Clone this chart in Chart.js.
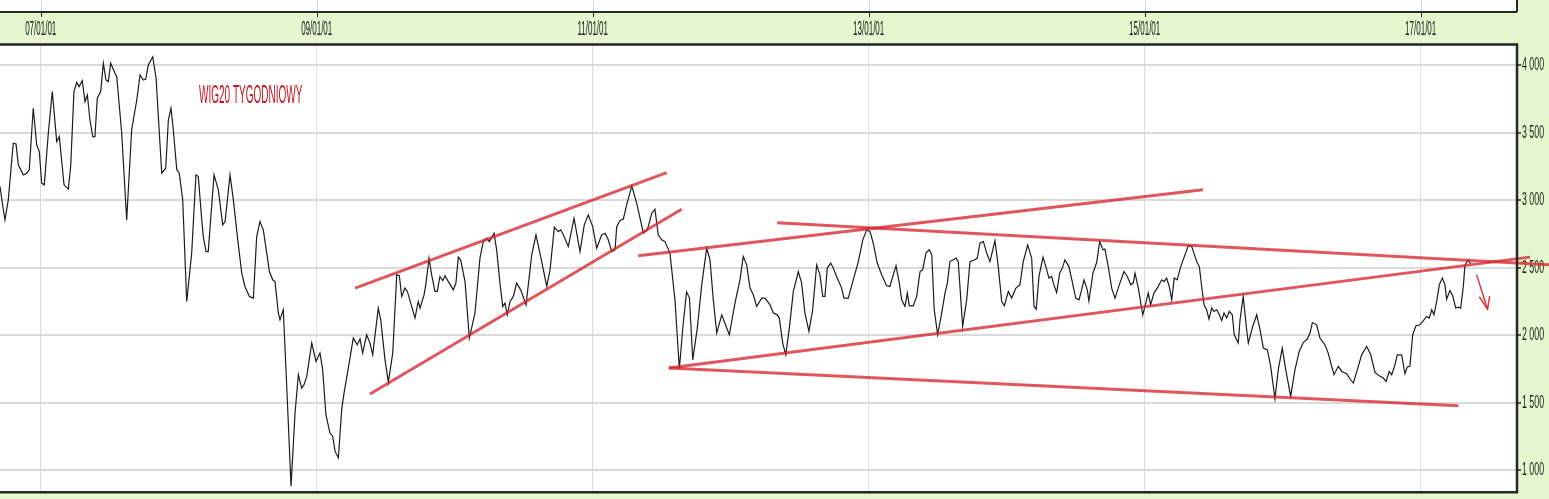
<!DOCTYPE html>
<html>
<head>
<meta charset="utf-8">
<script src="https://cdn.jsdelivr.net/npm/chart.js@4.4.1/dist/chart.umd.min.js"></script>
<style>
html,body{margin:0;padding:0;background:#e4f7cf;}
#wrap{width:1549px;height:499px;position:relative;}
canvas{display:block;}
</style>
</head>
<body>
<div id="wrap"><canvas id="c" width="1549" height="499"></canvas></div>
<script>
// ---- DATA ----
const chartTitle = 'WIG20 TYGODNIOWY';
const xTickYears = [2007, 2009, 2011, 2013, 2015, 2017];
const yTickValues = [1000, 1500, 2000, 2500, 3000, 3500, 4000];

// weekly closes (decimal year, index points)
const weekYears = [
2006.705,2006.729,2006.741,2006.765,2006.801,2006.821,2006.838,2006.874,2006.899,2006.917,2006.946,2006.971,2006.990,
2007.007,2007.026,2007.055,2007.084,2007.116,2007.135,2007.169,2007.200,2007.217,2007.241,2007.261,2007.278,2007.301,
2007.321,2007.338,2007.357,2007.377,2007.393,2007.410,2007.435,2007.454,2007.473,2007.490,2007.507,2007.538,2007.551,
2007.587,2007.623,2007.659,2007.696,2007.720,2007.743,2007.761,2007.780,2007.812,2007.836,2007.877,2007.906,2007.925,
2007.944,2007.961,2007.986,2008.004,2008.029,2008.058,2008.094,2008.125,2008.142,2008.167,2008.178,2008.198,2008.214,
2008.256,2008.287,2008.319,2008.336,2008.372,2008.396,2008.425,2008.457,2008.480,2008.512,2008.541,2008.565,2008.589,
2008.613,2008.638,2008.657,2008.681,2008.698,2008.722,2008.734,2008.758,2008.787,2008.814,2008.843,2008.867,2008.891,
2008.908,2008.928,2008.964,2008.995,2009.024,2009.043,2009.067,2009.096,2009.116,2009.133,2009.157,2009.181,2009.198,
2009.229,2009.265,2009.294,2009.314,2009.333,2009.362,2009.386,2009.406,2009.446,2009.464,2009.495,2009.519,2009.551,
2009.580,2009.599,2009.616,2009.640,2009.657,2009.688,2009.712,2009.736,2009.749,2009.778,2009.792,2009.814,2009.833,
2009.857,2009.874,2009.893,2009.913,2009.930,2009.954,2009.990,2010.009,2010.026,2010.043,2010.075,2010.106,2010.147,
2010.183,2010.207,2010.232,2010.251,2010.285,2010.304,2010.328,2010.348,2010.364,2010.381,2010.401,2010.425,2010.449,
2010.478,2010.517,2010.558,2010.589,2010.623,2010.667,2010.691,2010.722,2010.751,2010.768,2010.787,2010.823,2010.865,
2010.908,2010.939,2010.968,2011.000,2011.029,2011.065,2011.089,2011.113,2011.138,2011.162,2011.174,2011.198,2011.222,
2011.246,2011.283,2011.319,2011.367,2011.396,2011.428,2011.451,2011.475,2011.500,2011.524,2011.560,2011.596,2011.628,
2011.654,2011.680,2011.701,2011.725,2011.758,2011.790,2011.826,2011.850,2011.874,2011.899,2011.935,2011.990,2012.031,
2012.067,2012.091,2012.116,2012.140,2012.164,2012.188,2012.225,2012.249,2012.285,2012.309,2012.338,2012.352,2012.377,
2012.399,2012.425,2012.454,2012.490,2012.514,2012.538,2012.567,2012.594,2012.623,2012.647,2012.667,2012.683,2012.700,
2012.725,2012.743,2012.772,2012.804,2012.821,2012.852,2012.888,2012.925,2012.957,2012.986,2013.010,2013.033,2013.062,
2013.094,2013.130,2013.154,2013.178,2013.198,2013.222,2013.239,2013.263,2013.280,2013.294,2013.323,2013.348,2013.372,
2013.391,2013.415,2013.439,2013.457,2013.475,2013.500,2013.529,2013.553,2013.570,2013.589,2013.613,2013.633,2013.649,
2013.681,2013.710,2013.734,2013.770,2013.787,2013.806,2013.831,2013.855,2013.879,2013.915,2013.939,2013.964,2013.983,
2014.012,2014.036,2014.067,2014.096,2014.120,2014.152,2014.181,2014.198,2014.214,2014.234,2014.263,2014.287,2014.306,
2014.326,2014.342,2014.362,2014.384,2014.403,2014.422,2014.451,2014.475,2014.500,2014.524,2014.543,2014.560,2014.584,
2014.596,2014.625,2014.652,2014.674,2014.698,2014.712,2014.736,2014.761,2014.785,2014.816,2014.850,2014.874,2014.899,
2014.917,2014.930,2014.954,2014.986,2015.002,2015.026,2015.043,2015.067,2015.091,2015.123,2015.140,2015.159,2015.178,
2015.196,2015.214,2015.236,2015.261,2015.292,2015.316,2015.341,2015.357,2015.377,2015.396,2015.413,2015.430,2015.449,
2015.466,2015.486,2015.502,2015.522,2015.541,2015.558,2015.575,2015.594,2015.613,2015.635,2015.649,2015.678,2015.691,
2015.714,2015.739,2015.751,2015.783,2015.812,2015.836,2015.860,2015.889,2015.913,2015.944,2015.968,2015.997,2016.022,
2016.058,2016.089,2016.120,2016.149,2016.178,2016.198,2016.215,2016.246,2016.270,2016.306,2016.330,2016.355,2016.372,
2016.403,2016.428,2016.464,2016.488,2016.512,2016.541,2016.572,2016.609,2016.638,2016.669,2016.700,2016.729,2016.749,
2016.772,2016.790,2016.814,2016.830,2016.862,2016.886,2016.903,2016.922,2016.942,2016.966,2016.995,2017.024,2017.043,
2017.062,2017.080,2017.096,2017.116,2017.135,2017.157,2017.176,2017.188,2017.212,2017.232,2017.254,2017.273,2017.290,
2017.309,2017.321,2017.346,2017.362
];
const wig20 = [
3100,2928,2854,3002,3421,3416,3260,3187,3199,3224,3680,3408,3359,
3125,3113,3495,3803,3433,3470,3113,3081,3248,3803,3872,3840,3884,
3729,3778,3593,3470,3470,3754,3803,4013,3889,3877,4013,3939,3913,
3495,2854,3519,3741,3926,3889,3896,4000,4061,3902,3199,3236,3593,
3680,3519,3224,3199,3002,2250,2608,3187,3174,2854,2730,2619,2619,
3187,3076,2817,2841,3187,3002,2730,2460,2361,2287,2275,2730,2841,
2780,2608,2471,2410,2397,2164,2114,2188,1523,882,1424,1708,1609,
1634,1695,1942,1806,1868,1745,1412,1276,1251,1140,1092,1449,1572,
1757,1979,1929,1972,1868,2003,1942,1855,2201,2114,1818,1651,1868,
2447,2440,2287,2349,2324,2213,2127,2250,2201,2299,2386,2571,2447,
2324,2324,2435,2405,2440,2397,2336,2386,2578,2558,2397,1979,2164,
2571,2693,2718,2693,2755,2632,2386,2213,2238,2151,2250,2287,2386,
2336,2225,2595,2743,2582,2361,2484,2800,2767,2780,2743,2656,2866,
2619,2817,2891,2804,2644,2743,2755,2706,2619,2632,2804,2849,2859,
2965,3105,2977,2755,2780,2903,2933,2743,2706,2693,2608,2262,1752,
2065,2321,2277,1818,2053,2373,2644,2558,2262,2016,2151,2003,2238,
2410,2582,2521,2349,2299,2213,2275,2275,2225,2164,2151,2127,1942,
1855,2053,2324,2471,2386,2164,2028,2188,2521,2447,2287,2287,2497,
2534,2497,2423,2349,2275,2275,2410,2545,2706,2780,2767,2681,2534,
2447,2366,2361,2447,2514,2386,2262,2213,2312,2218,2218,2287,2471,
2484,2608,2632,2595,2188,2003,2164,2312,2386,2545,2558,2571,2545,
2065,2262,2545,2558,2571,2681,2693,2608,2545,2701,2508,2250,2218,
2324,2275,2349,2373,2545,2669,2571,2213,2193,2435,2578,2497,2423,
2435,2373,2316,2460,2497,2558,2508,2397,2275,2262,2336,2410,2336,
2255,2460,2538,2693,2632,2637,2508,2349,2275,2373,2471,2435,2373,
2386,2460,2349,2151,2213,2312,2225,2312,2349,2410,2397,2423,2361,
2262,2423,2410,2508,2595,2662,2656,2608,2545,2508,2361,2225,2188,
2119,2201,2176,2188,2151,2109,2164,2127,2176,2151,2003,1942,2114,
2287,2040,1942,2065,2151,2040,1905,1892,1770,1530,1745,1905,1745,
1547,1745,1880,1946,1972,2016,2094,2077,1979,1929,1868,1770,1708,
1770,1732,1715,1676,1646,1745,1855,1917,1855,1725,1700,1683,1658,
1732,1708,1782,1855,1855,1715,1765,1770,2003,2070,2077,2114,2139,
2127,2188,2151,2250,2373,2423,2373,2267,2331,2292,2201,2208,2201,
2361,2521,2558,2528
];

// hand-drawn trend lines (start/end in decimal years and index points)
const trendStartYear  = [2009.278, 2009.386, 2011.330, 2012.336, 2011.552, 2011.552];
const trendStartValue = [2349, 1565, 2588, 2832, 1757, 1757];
const trendEndYear    = [2011.536, 2011.645, 2015.422, 2017.930, 2017.792, 2017.273];
const trendEndValue   = [3204, 2933, 3076, 2521, 2578, 1478];

// small down arrow: shaft and head
const arrowShaftYear  = [2017.405, 2017.485];
const arrowShaftValue = [2447, 2193];
const arrowHeadYear   = [2017.425, 2017.485, 2017.500];
const arrowHeadValue  = [2285, 2193, 2290];

// ---- CHART ----
const X_MIN = 2006.705, X_MAX = 2017.698, Y_MIN = 842, Y_MAX = 4148;
const GREEN = '#e4f7cf';
const AXIS_FONT = "'Liberation Sans', Arial, sans-serif";
const X_LABEL_FONT = 8, X_LABEL_PAD = 11, X_STRETCH = 2.5;
const Y_LABEL_FONT = 18, Y_LABEL_PAD = 1, Y_SQUEEZE = 0.49;

const mainData = weekYears.map((x, i) => ({x: x, y: wig20[i]}));
const datasets = [{
  label: 'WIG20',
  data: mainData,
  borderColor: '#1c1c1c',
  borderWidth: 1.2,
  pointRadius: 0,
  tension: 0,
  order: 2
}];
trendStartYear.forEach((sx, i) => {
  datasets.push({
    label: 'trend' + i,
    data: [{x: sx, y: trendStartValue[i]}, {x: trendEndYear[i], y: trendEndValue[i]}],
    borderColor: 'rgba(215, 38, 48, 0.78)',
    borderWidth: 3,
    pointRadius: 0,
    tension: 0,
    clip: false,
    order: 1
  });
});
datasets.push({
  label: 'arrow',
  data: arrowShaftYear.map((x, i) => ({x: x, y: arrowShaftValue[i]})),
  borderColor: 'rgba(215, 38, 48, 0.9)', borderWidth: 1.5, pointRadius: 0, order: 1
});
datasets.push({
  label: 'arrowHead',
  data: arrowHeadYear.map((x, i) => ({x: x, y: arrowHeadValue[i]})),
  borderColor: 'rgba(215, 38, 48, 0.9)', borderWidth: 1.5, pointRadius: 0, order: 1
});

// tall, narrow axis lettering like the original
function wrapLabels(chart) {
  const xs = chart.scales.x, ys = chart.scales.y;
  if (xs && !xs.__tall) {
    const orig = xs.drawLabels;
    xs._computeLabelArea = function () { return undefined; };
    xs.drawLabels = function (area) {
      const c = this.ctx;
      const pivot = this.bottom - X_LABEL_PAD - X_LABEL_FONT * 1.2 / 2;
      c.save();
      c.translate(0, pivot); c.scale(1, X_STRETCH); c.translate(0, -pivot);
      orig.call(this, area);
      c.restore();
    };
    xs.__tall = true;
  }
  if (ys && !ys.__tall) {
    const orig = ys.drawLabels;
    ys._computeLabelArea = function () { return undefined; };
    ys.drawLabels = function (area) {
      const c = this.ctx;
      const pivot = this.left + this.options.grid.tickLength + Y_LABEL_PAD;
      c.save();
      c.translate(pivot, 0); c.scale(Y_SQUEEZE, 1); c.translate(-pivot, 0);
      orig.call(this, area);
      c.restore();
    };
    ys.__tall = true;
  }
}

const framePlugin = {
  id: 'frame',
  beforeDraw(chart) {
    wrapLabels(chart);
    const {ctx, chartArea: ca, width, height} = chart;
    ctx.save();
    ctx.fillStyle = GREEN;
    ctx.fillRect(0, 0, width, height);
    ctx.fillStyle = '#ffffff';
    ctx.fillRect(ca.left, ca.top, ca.right - ca.left, ca.bottom - ca.top);
    ctx.fillRect(0, 0, ca.right, 12);
    const xs = chart.scales.x;
    ctx.strokeStyle = '#d9d9d9';
    ctx.lineWidth = 1;
    xTickYears.forEach(v => {
      const px = Math.round(xs.getPixelForValue(v)) + 0.5;
      ctx.beginPath(); ctx.moveTo(px, 0); ctx.lineTo(px, 12); ctx.stroke();
    });
    ctx.restore();
  },
  afterDraw(chart) {
    const {ctx, chartArea: ca} = chart;
    const xs = chart.scales.x;
    ctx.save();
    ctx.strokeStyle = '#262626';
    ctx.lineWidth = 2;
    ctx.beginPath(); ctx.moveTo(0, 12); ctx.lineTo(ca.right, 12); ctx.stroke();
    ctx.beginPath(); ctx.moveTo(ca.right, 0); ctx.lineTo(ca.right, 12); ctx.stroke();
    ctx.lineWidth = 1;
    xTickYears.forEach(v => {
      const px = Math.round(xs.getPixelForValue(v)) + 0.5;
      ctx.beginPath(); ctx.moveTo(px, 12); ctx.lineTo(px, 17); ctx.stroke();
    });
    ctx.lineWidth = 2.5;
    ctx.beginPath();
    ctx.moveTo(0, ca.top - 0.5); ctx.lineTo(ca.right, ca.top - 0.5);
    ctx.lineTo(ca.right, ca.bottom + 0.5); ctx.lineTo(0, ca.bottom + 0.5);
    ctx.stroke();
    // title
    ctx.fillStyle = '#c8141e';
    ctx.font = "10px 'Liberation Sans', Arial, sans-serif";
    ctx.textBaseline = 'alphabetic';
    ctx.translate(ca.left + 199, ca.top + 58);
    ctx.scale(1, 2.5);
    ctx.fillText(chartTitle, 0, 0);
    ctx.restore();
  }
};

new Chart(document.getElementById('c'), {
  type: 'line',
  data: {datasets: datasets},
  options: {
    responsive: false,
    animation: false,
    events: [],
    normalized: true,
    layout: {padding: {left: 0, right: 0, top: 0, bottom: 7}},
    plugins: {legend: {display: false}, tooltip: {enabled: false}, title: {display: false}},
    scales: {
      x: {
        type: 'linear',
        position: 'top',
        min: X_MIN, max: X_MAX,
        afterBuildTicks: s => { s.ticks = xTickYears.map(v => ({value: v})); },
        afterFit: s => { s.height = 45; },
        ticks: {
          autoSkip: false, maxRotation: 0, padding: X_LABEL_PAD,
          color: '#222',
          font: {family: AXIS_FONT, size: X_LABEL_FONT, lineHeight: 1.2},
          callback: v => String(v % 100).padStart(2, '0') + '/01/01'
        },
        grid: {color: '#dcdcdc', lineWidth: 1, drawTicks: false},
        border: {display: false}
      },
      y: {
        type: 'linear',
        position: 'right',
        min: Y_MIN, max: Y_MAX,
        afterBuildTicks: s => { s.ticks = yTickValues.map(v => ({value: v})); },
        afterFit: s => { s.width = 32; },
        ticks: {
          padding: Y_LABEL_PAD,
          color: '#222',
          font: {family: AXIS_FONT, size: Y_LABEL_FONT, lineHeight: 0.7},
          callback: v => String(v).replace(/\B(?=(\d{3})+(?!\d))/g, ' ')
        },
        grid: {color: '#dadada', lineWidth: 2, tickLength: 4, tickColor: '#222', tickWidth: 1.5},
        border: {display: false}
      }
    }
  },
  plugins: [framePlugin]
});
</script>
</body>
</html>
